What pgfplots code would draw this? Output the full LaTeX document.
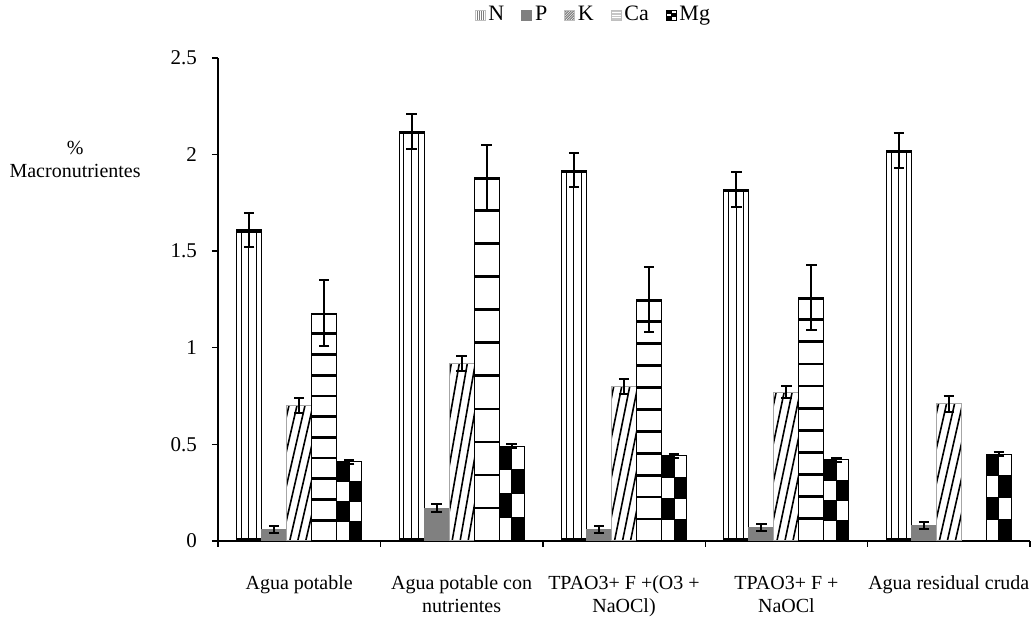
\documentclass[border=0pt]{standalone}
\usepackage{fontspec}
\setmainfont{Liberation Serif}
\usepackage{pgfplots}
\pgfplotsset{compat=1.18}
\usetikzlibrary{patterns}

\newif\ifppok
\newcommand\ppbb{%
  \tikzset{path picture={}}%
  \pgfpointanchor{path picture bounding box}{south west}\pgfgetlastxy{\ppxa}{\ppya}%
  \pgfpointanchor{path picture bounding box}{north east}\pgfgetlastxy{\ppxb}{\ppyb}%
  \ppoktrue
  \ifdim\ppxb<\ppxa\relax\ppokfalse\fi
  \ifdim\ppyb<\ppya\relax\ppokfalse\fi
  \ifdim\ppxb>3000pt\relax\ppokfalse\fi
  \ifdim\ppyb>3000pt\relax\ppokfalse\fi
  \ifdim\ppxa<-3000pt\relax\ppokfalse\fi
  \ifdim\ppya<-3000pt\relax\ppokfalse\fi
}

\pgfplotsset{
  errb/.style={
    /pgfplots/error bars/y dir=both,
    /pgfplots/error bars/y explicit,
    /pgfplots/error bars/error bar style={line width=1pt, black, solid, /tikz/path picture={}},
    /pgfplots/error bars/error mark options={rotate=90, mark size=2.6pt, line width=1pt, black, /tikz/path picture={}}},
  barN/.style={fill=white, draw=black, line width=0.5pt, bar shift=-0.308, forget plot, errb,
    /tikz/path picture={\ppbb\ifppok
      \foreach \u in {0.19,0.49,0.79}{\draw[path picture={}, black, line width=0.5pt] ({\ppxa+(\ppxb-\ppxa)*\u},\ppya) -- ({\ppxa+(\ppxb-\ppxa)*\u},\ppyb);}
      \draw[path picture={}, black, line width=2.6pt] (\ppxa,\ppyb) -- (\ppxb,\ppyb);
      \draw[path picture={}, black, line width=2.6pt] (\ppxa,\ppya) -- (\ppxb,\ppya);\fi}},
  barP/.style={fill=gray, draw=gray, line width=0.5pt, bar shift=-0.154, forget plot, errb},
  barK/.style={fill=white, draw=gray!70, line width=0.5pt, bar shift=0, forget plot, errb,
    /tikz/path picture={\ppbb\ifppok
      \foreach \u in {-1.16,-0.84,-0.52,-0.2,0.12,0.44,0.76}{\draw[path picture={}, black, line width=0.8pt] ({\ppxa+(\ppxb-\ppxa)*\u},\ppya) -- ({\ppxa+(\ppxb-\ppxa)*(\u+1.25)},\ppyb);}\fi}},
  barCa/.style={fill=white, draw=black, line width=0.5pt, bar shift=0.154, forget plot, errb,
    /tikz/path picture={\ppbb\ifppok
      \foreach \k in {1,...,10}{\draw[path picture={}, black, line width=1.4pt] (\ppxa,{\ppya+(\ppyb-\ppya)*\k/11}) -- (\ppxb,{\ppya+(\ppyb-\ppya)*\k/11});}
      \draw[path picture={}, black, line width=2.4pt] (\ppxa,\ppyb) -- (\ppxb,\ppyb);\fi}},
  barMg/.style={fill=white, draw=black, line width=0.5pt, bar shift=0.308, forget plot, errb,
    /tikz/path picture={\ppbb\ifppok
      \fill[path picture={}, black] ({(\ppxa+\ppxb)/2},\ppya) rectangle (\ppxb,{\ppya+(\ppyb-\ppya)/4});
      \fill[path picture={}, black] (\ppxa,{\ppya+(\ppyb-\ppya)/4}) rectangle ({(\ppxa+\ppxb)/2},{\ppya+(\ppyb-\ppya)/2});
      \fill[path picture={}, black] ({(\ppxa+\ppxb)/2},{\ppya+(\ppyb-\ppya)/2}) rectangle (\ppxb,{\ppya+(\ppyb-\ppya)*3/4});
      \fill[path picture={}, black] (\ppxa,{\ppya+(\ppyb-\ppya)*3/4}) rectangle ({(\ppxa+\ppxb)/2},\ppyb);\fi}},
  sqlegend/.style={legend image code/.code={\draw[##1] (0pt,-2.5pt) rectangle (5pt,2.5pt);}},
}

\begin{document}
\begin{tikzpicture}
\begin{axis}[
  scale only axis, width=406pt, height=241.5pt,
  at={(0pt,0pt)}, anchor=south west,
  xmin=-0.5, xmax=4.5, ymin=0, ymax=2.5,
  ybar, bar width=0.154,
  axis x line*=bottom, axis y line*=left,
  axis line style={black, line width=0.7pt},
  ytick={0,0.5,1,1.5,2,2.5},
  tick align=outside, major tick length=3pt,
  ytick style={black, line width=0.7pt},
  xtick={0,1,2,3,4},
  xticklabels={Agua potable, {Agua potable con\\nutrientes}, {TPAO3+ F +(O3 +\\NaOCl)}, {TPAO3+ F +\\NaOCl}, Agua residual cruda},
  xtick style={draw=none},
  extra x ticks={-0.5,0.5,1.5,2.5,3.5,4.5},
  extra x tick labels={},
  extra x tick style={xtick style={draw=black, line width=0.7pt}, major tick length=3pt},
  xticklabel style={align=center, yshift=-11pt, font=\fontsize{10}{11.5}\selectfont},
  yticklabel style={font=\fontsize{10.5}{12}\selectfont, xshift=-4pt},
  /pgf/number format/assume math mode=true,
  clip=false,
  legend style={at={(0.463,1.089)}, anchor=center, draw=none, fill=none,
    legend columns=-1, font=\fontsize{11}{13}\selectfont,
    nodes={inner xsep=1.5pt, inner ysep=0pt},
    /tikz/every even column/.append style={column sep=7pt}},
]
% legend
\addlegendimage{sqlegend, fill=white, draw=gray!50, line width=0.3pt,
  /tikz/path picture={\ppbb\ifppok
    \foreach \u in {0.2,0.4,0.6,0.8}{\draw[path picture={}, gray, line width=0.45pt] ({\ppxa+(\ppxb-\ppxa)*\u},\ppya) -- ({\ppxa+(\ppxb-\ppxa)*\u},\ppyb);}\fi}}
\addlegendentry{N}
\addlegendimage{sqlegend, draw=gray, fill=gray}
\addlegendentry{P}
\addlegendimage{sqlegend, fill=white, draw=gray!50, line width=0.3pt,
  /tikz/path picture={\ppbb\ifppok
    \foreach \u in {-1,-0.75,-0.5,-0.25,0,0.25,0.5,0.75}{\draw[path picture={}, gray, line width=0.5pt] ({\ppxa+(\ppxb-\ppxa)*\u},\ppya) -- ({\ppxa+(\ppxb-\ppxa)*(\u+1)},\ppyb);}\fi}}
\addlegendentry{K}
\addlegendimage{sqlegend, fill=gray!45, draw=gray!50, line width=0.3pt,
  /tikz/path picture={\ppbb\ifppok
    \foreach \u in {0.25,0.5,0.75}{\draw[path picture={}, white, line width=0.5pt] (\ppxa,{\ppya+(\ppyb-\ppya)*\u}) -- (\ppxb,{\ppya+(\ppyb-\ppya)*\u});}\fi}}
\addlegendentry{Ca}
\addlegendimage{sqlegend, fill=white, draw=black, line width=0.3pt,
  /tikz/path picture={\ppbb\ifppok
    \fill[path picture={}, black] (\ppxa,{\ppya+(\ppyb-\ppya)*2/3}) rectangle ({(\ppxa+\ppxb)/2},\ppyb);
    \fill[path picture={}, black] ({(\ppxa+\ppxb)/2},{\ppya+(\ppyb-\ppya)/3}) rectangle (\ppxb,{\ppya+(\ppyb-\ppya)*2/3});
    \fill[path picture={}, black] (\ppxa,\ppya) rectangle ({(\ppxa+\ppxb)/2},{\ppya+(\ppyb-\ppya)/3});\fi}}
\addlegendentry{Mg}

% N
\addplot[barN] coordinates {(0,1.61) +- (0,0.09)};
\addplot[barN] coordinates {(1,2.12) +- (0,0.09)};
\addplot[barN] coordinates {(2,1.92) +- (0,0.09)};
\addplot[barN] coordinates {(3,1.82) +- (0,0.09)};
\addplot[barN] coordinates {(4,2.02) +- (0,0.09)};
% P
\addplot[barP] coordinates {(0,0.06) +- (0,0.02) (1,0.17) +- (0,0.02) (2,0.06) +- (0,0.02) (3,0.07) +- (0,0.02) (4,0.08) +- (0,0.02)};
% K
\addplot[barK] coordinates {(0,0.70) +- (0,0.04)};
\addplot[barK] coordinates {(1,0.92) +- (0,0.04)};
\addplot[barK] coordinates {(2,0.80) +- (0,0.04)};
\addplot[barK] coordinates {(3,0.77) +- (0,0.03)};
\addplot[barK] coordinates {(4,0.71) +- (0,0.04)};
% Ca
\addplot[barCa] coordinates {(0,1.18) +- (0,0.17)};
\addplot[barCa] coordinates {(1,1.88) +- (0,0.17)};
\addplot[barCa] coordinates {(2,1.25) +- (0,0.17)};
\addplot[barCa] coordinates {(3,1.26) +- (0,0.17)};
% Mg
\addplot[barMg] coordinates {(0,0.41) +- (0,0.01)};
\addplot[barMg] coordinates {(1,0.49) +- (0,0.01)};
\addplot[barMg] coordinates {(2,0.44) +- (0,0.01)};
\addplot[barMg] coordinates {(3,0.42) +- (0,0.01)};
\addplot[barMg] coordinates {(4,0.45) +- (0,0.01)};

\node[align=center, font=\fontsize{10}{11.5}\selectfont] at (axis description cs:-0.176,0.789) {\%\\Macronutrientes};
\end{axis}
\pgfresetboundingbox
\path[use as bounding box] (-109pt,-39pt) rectangle (407pt,270.5pt);
\end{tikzpicture}
\end{document}
